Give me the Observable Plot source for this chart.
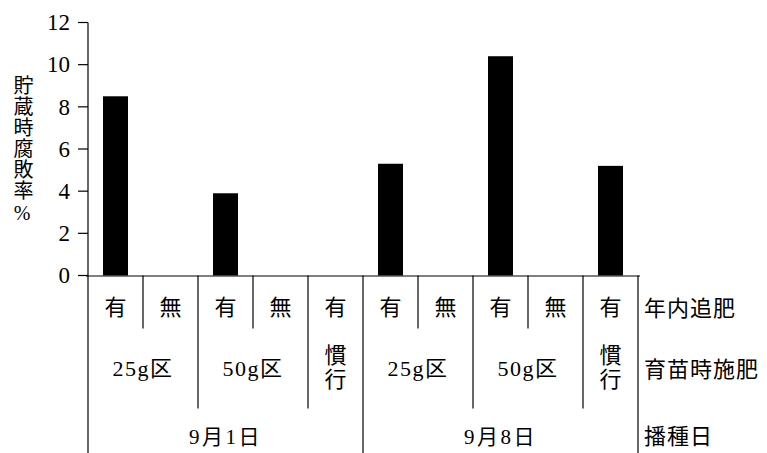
<!DOCTYPE html>
<html>
<head>
<meta charset="utf-8">
<script src="https://cdn.jsdelivr.net/npm/d3@7"></script>
<script src="https://cdn.jsdelivr.net/npm/@observablehq/plot@0.6"></script>
<style>
  html, body { margin: 0; padding: 0; background: #fff; }
  #chart { position: relative; width: 767px; height: 453px; }
  #chart svg { position: absolute; left: 0; top: 0; }
</style>
</head>
<body>
<div id="chart"></div>
<script>
// ---- data ----
const sowingDates = ["9月1日","9月1日","9月1日","9月1日","9月1日","9月8日","9月8日","9月8日","9月8日","9月8日"];
const seedlingFert = ["25g区","25g区","50g区","50g区","慣行","25g区","25g区","50g区","50g区","慣行"];
const topDressing = ["有","無","有","無","有","有","無","有","無","有"];
const rotRate = [8.5, 0, 3.9, 0, 0, 5.3, 0, 10.4, 0, 5.2];
const yTicks = [0, 2, 4, 6, 8, 10, 12];
const yLabel = "貯蔵時腐敗率%";
const rowLabels = ["年内追肥", "育苗時施肥", "播種日"];

(function () {
const FONT = "'Liberation Serif', 'Noto Sans CJK JP'";
const data = rotRate.map((v, i) => ({i, v}));

const W = 767, H = 453;
const plot = Plot.plot({
  width: W, height: H,
  marginTop: 22.5, marginBottom: 177.5, marginLeft: 86, marginRight: 127,
  style: {background: "transparent"},
  x: {domain: d3.range(rotRate.length), paddingInner: 0.55, paddingOuter: 0.275, axis: null},
  y: {domain: [0, 12], axis: null},
  marks: [
    Plot.barY(data, {x: "i", y: "v", fill: "#000"}),
    Plot.ruleY([0], {stroke: "#000", strokeWidth: 1.2})
  ]
});
const chart = document.getElementById("chart");
chart.appendChild(plot);

const svg = d3.select(plot);
const xs = plot.scale("x"), ys = plot.scale("y");
const step = xs.step, bw = xs.bandwidth;
const leftX = xs.apply(0) - (step - bw) / 2;
const colL = i => leftX + i * step;
const rightX = colL(rotRate.length);
const base = ys.apply(0), topY = ys.apply(12);
const row1 = base + 53, row2 = base + 133, row3 = H;

// lines: y axis, ticks, table grid
const g = svg.append("g").attr("stroke", "#000").attr("stroke-width", 1.2);
g.append("line").attr("x1", leftX).attr("x2", leftX).attr("y1", topY).attr("y2", row3);
yTicks.forEach(v => {
  g.append("line").attr("x1", leftX - 10).attr("x2", leftX).attr("y1", ys.apply(v)).attr("y2", ys.apply(v));
});
for (let i = 1; i <= rotRate.length; i++) {
  let y2;
  if (i === rotRate.length || sowingDates[i] !== sowingDates[i - 1]) y2 = row3;
  else if (seedlingFert[i] !== seedlingFert[i - 1]) y2 = row2;
  else y2 = row1;
  g.append("line").attr("x1", colL(i)).attr("x2", colL(i)).attr("y1", base).attr("y2", y2);
}

// text layer (plain svg on top)
const ov = d3.select(chart).append("svg").attr("width", W).attr("height", H)
  .style("font-family", FONT).style("pointer-events", "none");
const t = ov.append("g").attr("fill", "#000").attr("text-anchor", "middle");

yTicks.forEach(v => {
  t.append("text").attr("x", leftX - 18).attr("y", ys.apply(v)).attr("dy", "0.34em")
    .attr("text-anchor", "end").attr("font-size", 23).style("font-family", FONT).text(String(v));
});

topDressing.forEach((s, i) => {
  t.append("text").attr("x", xs.apply(i) + bw / 2).attr("y", base + 32).attr("dominant-baseline", "central")
    .attr("font-size", 22).style("font-family", FONT).text(s);
});
function runs(keyFn) {
  const out = [];
  for (let i = 0; i < rotRate.length; i++) {
    const k = keyFn(i);
    if (out.length && out[out.length - 1].k === k) out[out.length - 1].end = i + 1;
    else out.push({k, start: i, end: i + 1});
  }
  return out;
}
runs(i => sowingDates[i] + "|" + seedlingFert[i]).forEach(r => {
  const label = seedlingFert[r.start];
  const cx = (colL(r.start) + colL(r.end)) / 2, cy = (row1 + row2) / 2;
  if (r.end - r.start === 1) {
    const chars = Array.from(label);
    const txt = t.append("text").attr("font-size", 22).style("font-family", FONT);
    chars.forEach((c, j) => {
      txt.append("tspan").attr("x", cx).attr("y", cy - 1 + (j - (chars.length - 1) / 2) * 24)
        .attr("dominant-baseline", "central").text(c);
    });
  } else {
    t.append("text").attr("x", cx).attr("y", cy).attr("dominant-baseline", "central")
      .attr("font-size", 22).attr("letter-spacing", 1.5).style("font-family", FONT).text(label);
  }
});
runs(i => sowingDates[i]).forEach(r => {
  t.append("text").attr("x", (colL(r.start) + colL(r.end)) / 2).attr("y", (row2 + row3) / 2 + 6)
    .attr("dominant-baseline", "central").attr("font-size", 21).attr("letter-spacing", 2.5)
    .style("font-family", FONT).text(sowingDates[r.start]);
});
const rowCenters = [base + 33, (row1 + row2) / 2 + 1, (row2 + row3) / 2 + 6];
rowLabels.forEach((s, j) => {
  t.append("text").attr("text-anchor", "start").attr("x", rightX + 6).attr("y", rowCenters[j])
    .attr("dominant-baseline", "central").attr("font-size", 22).attr("letter-spacing", 1)
    .style("font-family", FONT).text(s);
});
t.append("text").attr("x", 22).attr("y", 150).attr("text-anchor", "middle")
  .attr("font-size", 20).style("font-family", FONT)
  .style("writing-mode", "vertical-rl").style("text-orientation", "upright").attr("letter-spacing", 1)
  .text(yLabel);
})();
</script>
</body>
</html>
